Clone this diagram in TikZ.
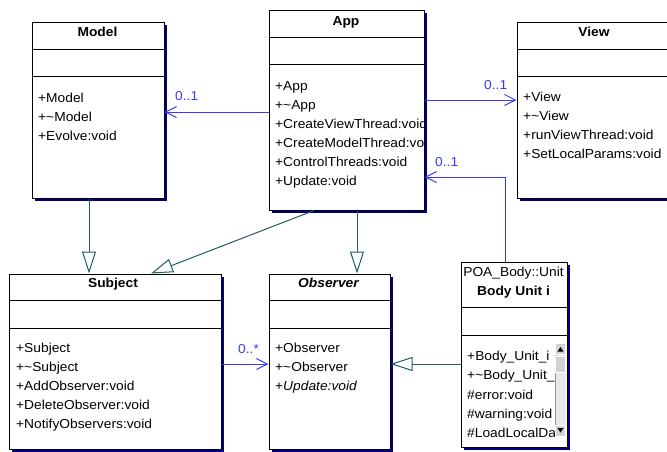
\documentclass[tikz,border=0pt]{standalone}
\usepackage{fontspec}
\setmainfont{Liberation Sans}[FakeStretch=1.06]
\usetikzlibrary{arrows.meta,shadows}

\definecolor{assocblue}{RGB}{58,58,255}
\definecolor{genteal}{RGB}{30,94,94}
\definecolor{shadownavy}{RGB}{0,0,128}
\definecolor{barbg}{RGB}{232,232,232}
\definecolor{btngray}{RGB}{210,210,210}

\tikzset{
  umlbox/.style={draw=black, line width=1pt, fill=white, inner sep=0pt, anchor=north west,
    drop shadow={shadow xshift=3pt, shadow yshift=-3pt, fill=shadownavy, opacity=1}},
  divider/.style={draw=black, line width=1pt},
  member/.style={anchor=base west, inner sep=0pt, font=\fontsize{13pt}{19pt}\selectfont},
  ctitle/.style={anchor=base, inner sep=0pt, font=\fontsize{13pt}{19pt}\selectfont\bfseries},
  mult/.style={anchor=base west, inner sep=0pt, text=assocblue, font=\fontsize{13pt}{19pt}\selectfont},
  assoc/.style={draw=assocblue, line width=1pt,
    -{Straight Barb[length=11pt,width=11pt,line width=1pt]}},
  gen/.style={draw=genteal, line width=1pt,
    -{Triangle[open,length=22pt,width=14pt,line width=1pt,fill=white]}},
}

\begin{document}
\begin{tikzpicture}[x=1pt,y=-1pt]
\useasboundingbox (0,0) rectangle (667,451);
\clip (0,0) rectangle (667,451);

% ---------- Model ----------
\node[umlbox, minimum width=132pt, minimum height=176pt] (model) at (31.5,21.5) {};
\draw[divider] ([yshift=-28pt]model.north west) -- ([yshift=-28pt]model.north east);
\draw[divider] ([yshift=-55pt]model.north west) -- ([yshift=-55pt]model.north east);
\node[ctitle] (modelT) at (97.5,36.5) {Model};
\node[member] (modelA) at (38,102.5) {+Model};
\node[member] (modelB) at (38,121.5) {+\textasciitilde Model};
\node[member] (modelC) at (38,140.5) {+Evolve:void};

% ---------- App ----------
\node[umlbox, minimum width=155pt, minimum height=200pt] (app) at (268.5,9.5) {};
\draw[divider] ([yshift=-28pt]app.north west) -- ([yshift=-28pt]app.north east);
\draw[divider] ([yshift=-55pt]app.north west) -- ([yshift=-55pt]app.north east);
\node[ctitle] (appT) at (346,25.5) {App};
\begin{scope}
  \clip (app.north west) rectangle (app.south east);
  \node[member] (appA) at (275,90.5) {+App};
  \node[member] (appB) at (275,109.5) {+\textasciitilde App};
  \node[member] (appC) at (275,128.5) {+CreateViewThread:void};
  \node[member] (appD) at (275,147.5) {+CreateModelThread:void};
  \node[member] (appE) at (275,166.5) {+ControlThreads:void};
  \node[member] (appF) at (275,185.5) {+Update:void};
\end{scope}

% ---------- View ----------
\node[umlbox, minimum width=170pt, minimum height=176pt] (view) at (516.5,21.5) {};
\draw[divider] ([yshift=-28pt]view.north west) -- ([yshift=-28pt]view.north east);
\draw[divider] ([yshift=-55pt]view.north west) -- ([yshift=-55pt]view.north east);
\node[ctitle] (viewT) at (594,36.5) {View};
\node[member] (viewA) at (523,101.5) {+View};
\node[member] (viewB) at (523,120.5) {+\textasciitilde View};
\node[member] (viewC) at (523,139.5) {+runViewThread:void};
\node[member] (viewD) at (523,158.5) {+SetLocalParams:void};

% ---------- Subject ----------
\node[umlbox, minimum width=212pt, minimum height=175pt] (subject) at (8.5,273.5) {};
\draw[divider] ([yshift=-27pt]subject.north west) -- ([yshift=-27pt]subject.north east);
\draw[divider] ([yshift=-55pt]subject.north west) -- ([yshift=-55pt]subject.north east);
\node[ctitle] (subjectT) at (113,287.5) {Subject};
\node[member] (subjectA) at (16,352.5) {+Subject};
\node[member] (subjectB) at (16,371.5) {+\textasciitilde Subject};
\node[member] (subjectC) at (16,390.5) {+AddObserver:void};
\node[member] (subjectD) at (16,409.5) {+DeleteObserver:void};
\node[member] (subjectE) at (16,428.5) {+NotifyObservers:void};

% ---------- Observer ----------
\node[umlbox, minimum width=121pt, minimum height=175pt] (observer) at (268.5,273.5) {};
\draw[divider] ([yshift=-27pt]observer.north west) -- ([yshift=-27pt]observer.north east);
\draw[divider] ([yshift=-55pt]observer.north west) -- ([yshift=-55pt]observer.north east);
\node[ctitle, font=\fontsize{13pt}{19pt}\selectfont\bfseries\itshape] (observerT) at (328.5,287.5) {Observer};
\node[member] (observerA) at (275,352.5) {+Observer};
\node[member] (observerB) at (275,371.5) {+\textasciitilde Observer};
\node[member] (observerC) at (275,390.5) {+\textit{Update:void}};

% ---------- Body Unit i ----------
\node[umlbox, minimum width=106pt, minimum height=185pt] (body) at (460.5,261.5) {};
\draw[divider] ([yshift=-46pt]body.north west) -- ([yshift=-46pt]body.north east);
\draw[divider] ([yshift=-74pt]body.north west) -- ([yshift=-74pt]body.north east);
\node[ctitle, font=\fontsize{13pt}{19pt}\selectfont] (bodyS) at (513.5,276.5) {POA\_Body::Unit};
\node[ctitle] (bodyT) at (513.5,295.5) {Body Unit i};
\begin{scope}
  \clip (461,336) rectangle (565,437);
  \node[member] (bodyA) at (467,360.5) {+Body\_Unit\_i};
  \node[member] (bodyB) at (467,379.5) {+\textasciitilde Body\_Unit\_i};
  \node[member] (bodyC) at (467,399.5) {\#error:void};
  \node[member] (bodyD) at (467,418.5) {\#warning:void};
  \node[member] (bodyE) at (467,437.5) {\#LoadLocalData:void};
\end{scope}
% scroll bar of the member list
\fill[barbg] (555,343) rectangle (566,436);
\draw[btngray!70!black, line width=0.5pt] (555,343) -- (555,436);
\draw[fill=btngray, draw=white, line width=0.8pt] (555.5,343.5) rectangle (565.5,354.5);
\fill[black] (557.5,351.5) -- (563.5,351.5) -- (560.5,347) -- cycle;
\draw[fill=btngray, draw=white, line width=0.8pt] (555.5,356) rectangle (565.5,372);
\draw[fill=btngray, draw=white, line width=0.8pt] (555.5,425) rectangle (565.5,436);
\fill[black] (557.5,428) -- (563.5,428) -- (560.5,432.5) -- cycle;

% ---------- associations ----------
\draw[assoc] ([yshift=-2pt]app.west) -- ([yshift=-2pt]model.east);
\draw[assoc] ([yshift=10pt]app.east) -- ([yshift=10pt]view.west);
\coordinate (bodyup) at ([xshift=-9pt]body.north);
\coordinate (appin) at ([yshift=-67pt]app.east);
\draw[assoc] (bodyup) |- (appin);
\draw[assoc] ([yshift=-2.5pt]subject.east) -- ([yshift=-2.5pt]observer.west);

\node[mult] (multModel) at (175,100.5) {0..1};
\node[mult] (multView) at (484,89.5) {0..1};
\node[mult] (multApp) at (435,166.5) {0..1};
\node[mult] (multObs) at (238,353.5) {0..*};

% ---------- generalizations ----------
\coordinate (modelout) at ([xshift=-9pt]model.south);
\draw[gen] (modelout) -- (subject.north -| modelout);
\draw[gen] ([xshift=-32.5pt]app.south) -- ([xshift=36pt]subject.north);
\coordinate (appout) at ([xshift=10.5pt]app.south);
\draw[gen] (appout) -- (observer.north -| appout);
\coordinate (obsin) at ([yshift=-2.5pt]observer.east);
\draw[gen] (body.west |- obsin) -- (obsin);
\end{tikzpicture}
\end{document}
